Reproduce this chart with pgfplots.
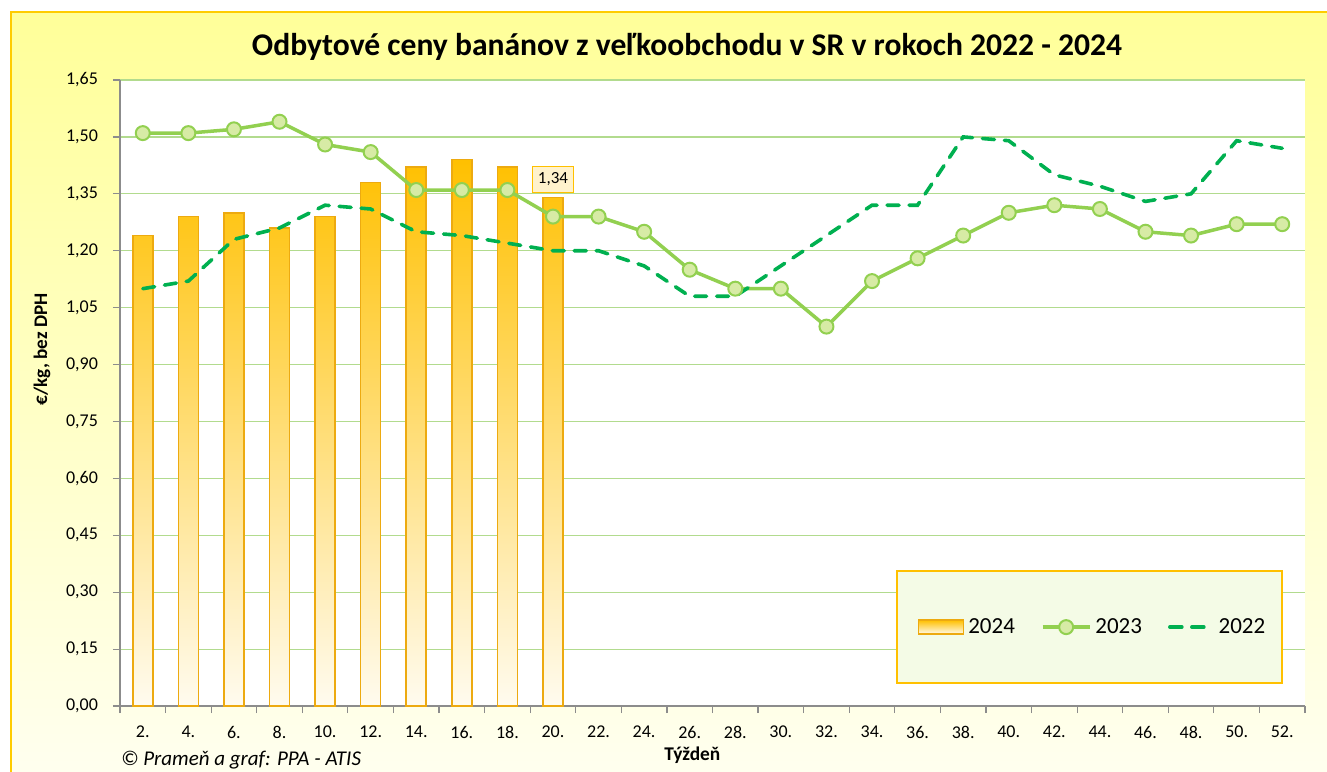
\documentclass[border=0pt]{standalone}
\usepackage{fontspec}
\setmainfont{Carlito}
\usepackage{pgfplots}
\pgfplotsset{compat=1.18}
\definecolor{barTop}{HTML}{FFC000}
\definecolor{barBot}{HTML}{FFFBEF}
\definecolor{barEdge}{HTML}{EDAA10}
\definecolor{line23}{HTML}{92D050}
\definecolor{mark23}{HTML}{D7EBA5}
\definecolor{line22}{HTML}{00B050}
\definecolor{gridgreen}{HTML}{B2DB8E}
\definecolor{axisgray}{HTML}{8C8C8C}
\definecolor{bgTop}{HTML}{FFFF99}
\definecolor{bgBot}{HTML}{FFFFF2}
\definecolor{frame}{HTML}{FFCC00}
\definecolor{legfill}{HTML}{F4FBE6}
\definecolor{labfill}{HTML}{FFF2CC}

% weeks 2.,4.,...,52. are plotted at x = 0..25
\pgfplotstableread{
x y
0 1.24
1 1.29
2 1.30
3 1.26
4 1.29
5 1.38
6 1.42
7 1.44
8 1.42
9 1.34
}\rokA
\pgfplotstableread{
x y
0 1.51
1 1.51
2 1.52
3 1.54
4 1.48
5 1.46
6 1.36
7 1.36
8 1.36
9 1.29
10 1.29
11 1.25
12 1.15
13 1.10
14 1.10
15 1.00
16 1.12
17 1.18
18 1.24
19 1.30
20 1.32
21 1.31
22 1.25
23 1.24
24 1.27
25 1.27
}\rokB
\pgfplotstableread{
x y
0 1.10
1 1.12
2 1.23
3 1.26
4 1.32
5 1.31
6 1.25
7 1.24
8 1.22
9 1.20
10 1.20
11 1.16
12 1.08
13 1.08
14 1.16
15 1.24
16 1.32
17 1.32
18 1.50
19 1.49
20 1.40
21 1.37
22 1.33
23 1.35
24 1.49
25 1.47
}\rokC

\begin{document}
\begin{tikzpicture}
\useasboundingbox (0,0) rectangle (663.5pt,-385.5pt);
\clip (0,0) rectangle (663.5pt,-385.5pt);
% chart background
\shade[top color=bgTop, bottom color=bgBot] (5.5pt,-6pt) rectangle (680pt,-400pt);
\draw[frame, line width=1.2pt] (5.5pt,-400pt) -- (5.5pt,-6pt) -- (680pt,-6pt);

\node[font=\bfseries\fontsize{15.8}{18}\selectfont] at (343.5pt,-23.5pt)
  {Odbytové ceny banánov z veľkoobchodu v SR v rokoch 2022 - 2024};
\node[anchor=west, font=\itshape\fontsize{10.5}{12}\selectfont] at (57pt,-380pt)
  {© Prameň a graf: PPA - ATIS};

\begin{axis}[
  at={(60pt,-353pt)}, anchor=south west,
  scale only axis, width=592.5pt, height=313pt,
  xmin=-0.5, xmax=25.5, ymin=0, ymax=1.65,
  axis background/.style={fill=white},
  axis x line*=bottom, axis y line*=left,
  axis line style={-, draw=axisgray, line width=0.6pt},
  tick align=outside,
  ytick={0,0.15,0.30,0.45,0.60,0.75,0.90,1.05,1.20,1.35,1.50,1.65},
  ymajorgrids, grid style={gridgreen, line width=0.6pt},
  ytick style={draw=axisgray, line width=0.6pt},
  major tick length=3.5pt,
  xtick={0,...,25},
  xticklabels={2.,4.,6.,8.,10.,12.,14.,16.,18.,20.,22.,24.,26.,28.,30.,32.,34.,36.,38.,40.,42.,44.,46.,48.,50.,52.},
  xtick style={draw=none},
  extra x ticks={-0.5,0.5,...,25.5},
  extra x tick labels={},
  extra x tick style={xtick style={draw=axisgray, line width=0.6pt}, grid=none},
  tick label style={font=\fontsize{9}{11}\selectfont},
  xticklabel style={yshift=-3pt},
  yticklabel style={/pgf/number format/fixed, /pgf/number format/fixed zerofill,
    /pgf/number format/precision=2, /pgf/number format/use comma,
    /pgf/number format/assume math mode=true, xshift=-4pt},
  xlabel={Týždeň},
  xlabel style={at={(axis description cs:0.483,-0.078)}, anchor=center,
    font=\bfseries\fontsize{9.7}{11}\selectfont},
  ylabel={€/kg, bez DPH},
  ylabel style={at={(axis description cs:-0.0658,0.570)}, anchor=center,
    font=\bfseries\fontsize{9.6}{11}\selectfont},
  legend columns=3,
  legend style={at={(0.8215,0.126)}, anchor=center, draw=none, fill=none,
    font=\fontsize{11.5}{13}\selectfont,
    /tikz/every even column/.append style={column sep=11pt},
    nodes={inner xsep=2pt}},
]
\addplot[ybar, bar width=10pt, draw=barEdge, line width=0.8pt,
  top color=barTop, bottom color=barBot,
  legend image code/.code={\draw[draw=barEdge, line width=0.8pt,
    top color=barTop, bottom color=barBot] (0pt,-3.5pt) rectangle (22.5pt,3.5pt);}]
  table[x=x, y=y] {\rokA};
\addlegendentry{2024}
\addplot[line23, line width=1.75pt, mark=*, mark size=3.5pt,
  mark options={fill=mark23, draw=line23, line width=1pt},
  legend image code/.code={\draw[mark repeat=2, mark phase=2]
    plot coordinates {(0pt,0pt) (11.75pt,0pt) (23.5pt,0pt)};}]
  table[x=x, y=y] {\rokB};
\addlegendentry{2023}
\addplot[line22, line width=1.8pt, dash pattern=on 6pt off 5pt, line cap=round,
  legend image code/.code={\draw (0pt,0pt) -- (21.5pt,0pt);}]
  table[x=x, y=y] {\rokC};
\addlegendentry{2022}

\node[anchor=south, yshift=2.5pt, fill=labfill, draw=barTop, line width=0.5pt,
  inner xsep=2.5pt, inner ysep=3pt, font=\fontsize{8.5}{10}\selectfont]
  at (axis cs:9,1.34) {1,34};

\draw[barTop, fill=legfill, line width=0.8pt]
  (rel axis cs:0.6557,0.0367) rectangle (rel axis cs:0.9806,0.2157);
\end{axis}
\end{tikzpicture}
\end{document}
